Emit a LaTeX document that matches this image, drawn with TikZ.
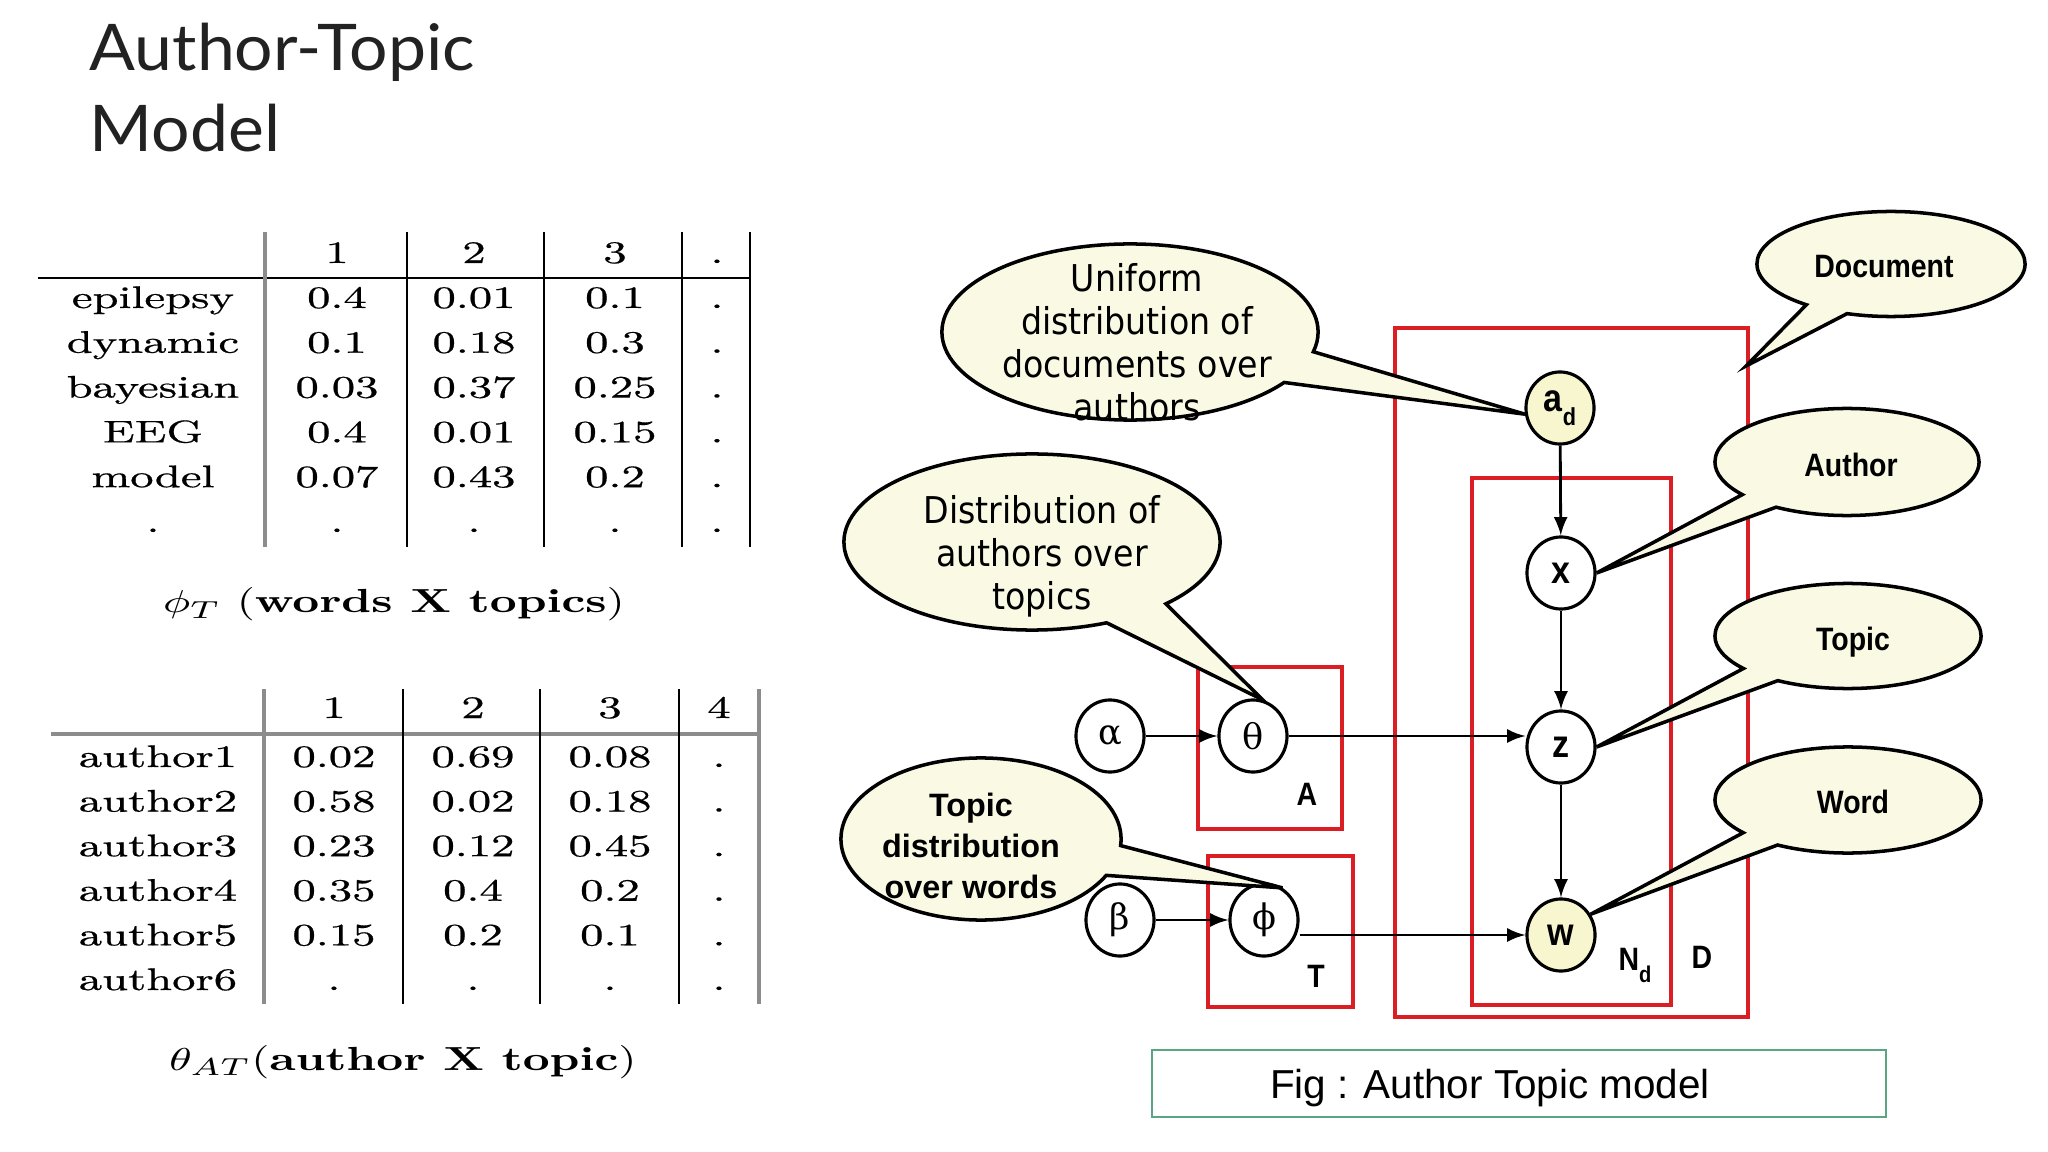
\documentclass[tikz,border=0pt]{standalone}
\usepackage{fontspec}
\usepackage{graphicx}
\usetikzlibrary{shapes.geometric,shapes.callouts}
\newfontfamily\titlefont[FakeStretch=1.055]{Lato}
\newfontfamily\notefont[FakeStretch=0.9]{DejaVu Sans}
\newfontfamily\boldnotefont{Liberation Sans}
\newfontfamily\narrowfont[FakeStretch=0.88]{Liberation Sans}
\newfontfamily\greekfont{DejaVu Serif}
\newfontfamily\capfont{Liberation Sans}
\newfontfamily\tabfont[FakeBold=0.5]{Latin Modern Roman}
\definecolor{platered}{RGB}{218,30,35}
\definecolor{notecream}{RGB}{250,250,228}
\definecolor{obsyellow}{RGB}{248,246,206}
\definecolor{capgreen}{RGB}{90,165,130}
\definecolor{titlegray}{RGB}{34,34,34}
\newcommand{\wtab}[1]{\scalebox{1.45}[1]{#1}}
\newcommand{\wcap}[1]{\scalebox{1.4}[1]{#1}}

\begin{document}
\begin{tikzpicture}[x=0.01cm,y=-0.01cm,
    var_node/.style={ellipse,draw=black,line width=0.9pt,fill=white,minimum width=0.68cm,minimum height=0.72cm,inner sep=0pt},
    greek_node/.style={var_node,font=\greekfont\fontsize{10}{10}\selectfont},
    letter_node/.style={var_node,font=\narrowfont\bfseries\fontsize{11}{11}\selectfont},
    obs_node/.style={letter_node,fill=obsyellow},
    arrow_edge/.style={-latex,black,line width=0.8pt},
    plate_box/.style={draw=platered,line width=0.9pt},
    plate_label/.style={anchor=base,inner sep=0pt,font=\narrowfont\bfseries\fontsize{9.2}{9.2}\selectfont},
    note_call/.style={ellipse callout,draw=black,line width=1pt,fill=notecream,callout pointer arc=22,inner sep=0pt},
    word_call/.style={note_call,callout pointer arc=20},
    note_text/.style={inner sep=0pt,align=center,font=\notefont\fontsize{10.5}{12.2}\selectfont},
    bold_text/.style={note_text,font=\boldnotefont\bfseries\fontsize{9.2}{11.7}\selectfont},
    word_text/.style={anchor=base,inner sep=0pt,font=\narrowfont\bfseries\fontsize{9.2}{9.2}\selectfont},
    cell/.style={anchor=base,inner sep=0pt,font=\tabfont\fontsize{8.9}{10}\selectfont},
    tab_caption/.style={anchor=base,inner sep=0pt,font=\fontsize{9.5}{11}\selectfont},
    rule_black/.style={black,line width=0.8pt},
    rule_gray/.style={black!45,line width=0.9pt}]
  \useasboundingbox[fill=white] (0,0) rectangle (2048,1152);
  % title
  \node[anchor=base west,inner sep=0pt,font=\titlefont\fontsize{18.3}{22}\selectfont,text=titlegray] (title1) at (89,71) {Author-Topic};
  \node[anchor=base west,inner sep=0pt,font=\titlefont\fontsize{18.3}{22}\selectfont,text=titlegray] (title2) at (89,152) {Model};
  % words x topics
  \foreach \c/\x [count=\i] in {1/337,2/474,3/615,./717}
    \node[cell] (wt-h-\i) at (\x,263) {\wtab{\c}};
  \foreach \lab/\va/\vb/\vc [count=\r] in {epilepsy/0.4/0.01/0.1,dynamic/0.1/0.18/0.3,bayesian/0.03/0.37/0.25,EEG/0.4/0.01/0.15,model/0.07/0.43/0.2,./././.}{
    \pgfmathsetmacro{\yb}{308+44.8*(\r-1)}
    \node[cell] (wt-\r-0) at (153,\yb) {\wtab{\lab}};
    \node[cell] (wt-\r-1) at (337,\yb) {\wtab{\va}};
    \node[cell] (wt-\r-2) at (474,\yb) {\wtab{\vb}};
    \node[cell] (wt-\r-3) at (615,\yb) {\wtab{\vc}};
    \node[cell] (wt-\r-4) at (717,\yb) {\wtab{.}};
  }
  \draw[rule_black] (38,278) -- (750,278);
  \draw[rule_gray] (265,232) -- (265,547);
  \foreach \x in {407,544,682,750}
    \draw[rule_black] (\x,232) -- (\x,547);
  \node[tab_caption] (wt-cap) at (394,613) {\wcap{$\phi_T$ (\textbf{words X topics})}};
  % author x topic
  \foreach \c/\x [count=\i] in {1/334,2/473,3/610,4/719}
    \node[cell] (at-h-\i) at (\x,718) {\wtab{\c}};
  \foreach \lab/\va/\vb/\vc [count=\r] in {author1/0.02/0.69/0.08,author2/0.58/0.02/0.18,author3/0.23/0.12/0.45,author4/0.35/0.4/0.2,author5/0.15/0.2/0.1,author6/././.}{
    \pgfmathsetmacro{\yb}{767+44.6*(\r-1)}
    \node[cell] (at-\r-0) at (158,\yb) {\wtab{\lab}};
    \node[cell] (at-\r-1) at (334,\yb) {\wtab{\va}};
    \node[cell] (at-\r-2) at (473,\yb) {\wtab{\vb}};
    \node[cell] (at-\r-3) at (610,\yb) {\wtab{\vc}};
    \node[cell] (at-\r-4) at (719,\yb) {\wtab{.}};
  }
  \draw[rule_gray] (51,734) -- (759,734);
  \foreach \x in {264,759}
    \draw[rule_gray] (\x,689) -- (\x,1004);
  \foreach \x in {403,540,679}
    \draw[rule_black] (\x,689) -- (\x,1004);
  \node[tab_caption] (at-cap) at (403,1070) {\wcap{$\theta_{AT}$(\textbf{author X topic})}};
  % graphical model
  \node[greek_node] (alpha) at (1110,736) {α};
  \node[greek_node] (theta) at (1253,736) {θ};
  \node[greek_node] (beta) at (1120,920) {β};
  \node[greek_node] (phi) at (1264,920) {ϕ};
  \node[obs_node] (ad) at (1560,408) {a\raisebox{-4pt}{\fontsize{7}{7}\selectfont d}};
  \node[letter_node] (xn) at (1561,573) {x};
  \node[letter_node] (zn) at (1561,747) {z};
  \node[obs_node] (wn) at (1561,935) {w};
  \draw[plate_box] (1395,328) rectangle (1748,1017);
  \draw[plate_box] (1472,478) rectangle (1671,1005);
  \draw[plate_box] (1198,667) rectangle (1342,829);
  \draw[plate_box] (1208,856) rectangle (1353,1007);
  \node[plate_label] (plate-a) at (1307,805) {A};
  \node[plate_label] (plate-t) at (1316,987) {T};
  \node[plate_label] (plate-nd) at (1635,970) {N\raisebox{-3.5pt}{\fontsize{6.5}{6.5}\selectfont d}};
  \node[plate_label] (plate-d) at (1702,968) {D};
  \draw[arrow_edge] (alpha) -- (theta);
  \draw[arrow_edge] (beta) -- (phi);
  \draw[arrow_edge] (ad) -- (xn);
  \draw[arrow_edge] (xn) -- (zn);
  \draw[arrow_edge] (zn) -- (wn);
  \draw[arrow_edge] (theta) -- (theta -| zn.west);
  \draw[arrow_edge] (wn -| phi.east) -- (wn);
  % callouts
  \coordinate (doc-tip) at (1746,366);
  \node[note_call,minimum width=3.76cm,minimum height=1.76cm,callout absolute pointer={(ad.190)}] (note-uniform) at (1130,332) {};
  \node[note_text] (uniform-text) at (1137,342) {Uniform\\distribution of\\documents over\\authors};
  \node[note_call,minimum width=3.76cm,minimum height=1.76cm,callout absolute pointer={(theta.75)}] (note-authors) at (1032,542) {};
  \node[note_text] (authors-text) at (1042,556) {Distribution of\\authors over\\topics};
  \node[note_call,minimum width=2.8cm,minimum height=1.62cm,callout absolute pointer={(phi.60)}] (note-words) at (981,839) {};
  \node[bold_text] (words-text) at (971,846) {Topic\\distribution\\over words};
  \node[word_call,minimum width=2.68cm,minimum height=1.05cm,callout absolute pointer={(doc-tip)}] (note-doc) at (1891,264) {};
  \node[word_text] (doc-text) at (1884,278) {Document};
  \node[word_call,minimum width=2.64cm,minimum height=1.07cm,callout absolute pointer={(xn.east)}] (note-author) at (1847,462) {};
  \node[word_text] (author-text) at (1851,477) {Author};
  \node[word_call,minimum width=2.66cm,minimum height=1.05cm,callout absolute pointer={(zn.east)}] (note-topic) at (1848,636) {};
  \node[word_text] (topic-text) at (1853,650) {Topic};
  \node[word_call,minimum width=2.66cm,minimum height=1.06cm,callout absolute pointer={(wn.35)}] (note-word) at (1848,800) {};
  \node[word_text] (word-text) at (1853,813) {Word};
  % caption
  \draw[draw=capgreen,line width=0.8pt] (1152,1050) rectangle (1886,1117);
  \node[anchor=base,inner sep=0pt,font=\capfont\fontsize{11.5}{12}\selectfont] (figcap) at (1490,1098) {Fig : Author Topic model};
\end{tikzpicture}
\end{document}
